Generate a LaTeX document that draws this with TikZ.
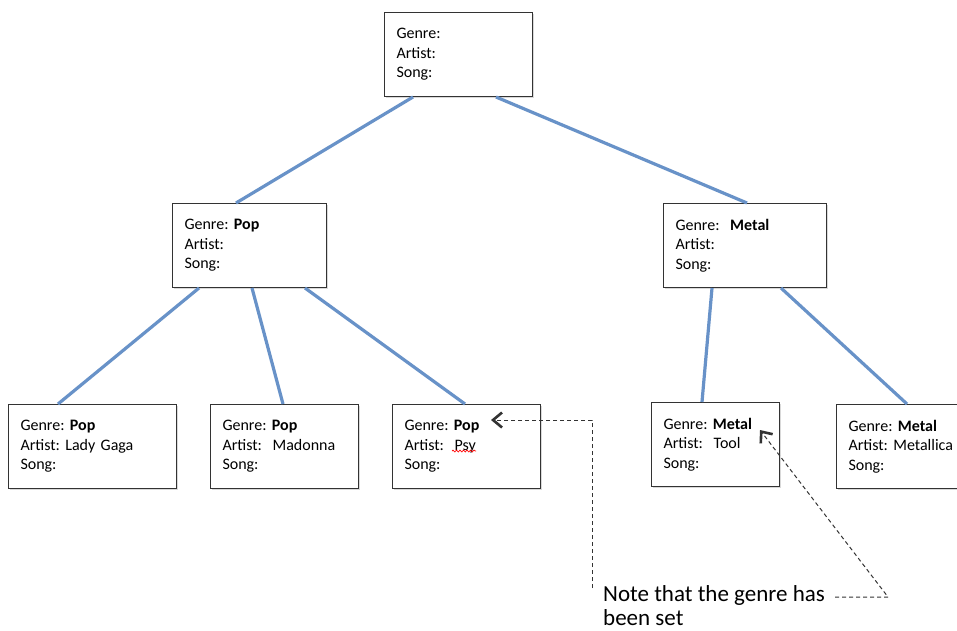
\documentclass[tikz,border=0pt]{standalone}
\usepackage{fontspec}
\setmainfont{Carlito}
\usetikzlibrary{arrows.meta,shadows,decorations.pathmorphing}
\definecolor{linkblue}{RGB}{104,146,200}
\frenchspacing

\begin{document}
\begin{tikzpicture}[x=1pt, y=-1pt,
  box/.style={draw=black!80, line width=1pt, fill=white, anchor=north west, minimum height=84pt,
    inner xsep=12pt, inner ysep=0pt, align=left, font=\fontsize{16}{19.5}\selectfont,
    drop shadow={shadow xshift=1.5pt, shadow yshift=-1.5pt, opacity=0.3}},
  link/.style={line width=3.2pt, draw=linkblue},
  hint/.style={draw=black!80, line width=1pt, dash pattern=on 4pt off 3pt},
  tip/.style={-{Straight Barb[length=9pt, width=15pt, line width=2.6pt]}}]
\useasboundingbox (0,0) rectangle (957,630);

\node[box, text width=124pt] (root) at (384,12) {Genre:\\Artist:\\Song:};
\node[box, text width=130pt] (pop) at (172,203) {Genre: \textbf{Pop}\\Artist:\\Song:};
\node[box, text width=139pt] (metal) at (663,203) {Genre:~ \textbf{Metal}\\Artist:\\Song:};
\node[box, text width=144pt] (gaga) at (8,404) {Genre: \textbf{Pop}\\Artist: Lady Gaga\\Song:};
\node[box, text width=124pt] (madonna) at (210,404) {Genre: \textbf{Pop}\\Artist:~ Madonna\\Song:};
\node[box, text width=124pt] (psy) at (392,404) {Genre: \textbf{Pop}\\Artist:~ Psy\\Song:};
\node[box, text width=104pt] (tool) at (651,402) {Genre: \textbf{Metal}\\Artist:~ Tool\\Song:};
\node[box, text width=116pt] (metallica) at (836,404) {Genre: \textbf{Metal}\\Artist: Metallica\\Song:};

\draw[link] ([xshift=29]root.south west) -- ([xshift=64]pop.north west);
\draw[link] ([xshift=112]root.south west) -- ([xshift=84]metal.north west);
\draw[link] ([xshift=27]pop.south west) -- ([xshift=50]gaga.north west);
\draw[link] ([xshift=80]pop.south west) -- ([xshift=73]madonna.north west);
\draw[link] ([xshift=133]pop.south west) -- ([xshift=73]psy.north west);
\draw[link] ([xshift=49]metal.south west) -- ([xshift=51]tool.north west);
\draw[link] ([xshift=118]metal.south west) -- ([xshift=71]metallica.north west);

\draw[red, line width=0.7pt, decorate, decoration={snake, amplitude=0.9pt, segment length=3.5pt}] (452,451) -- (476,451);

\node[anchor=north west, inner sep=0pt, align=left, font=\fontsize{23}{24}\selectfont] (note) at (603,585) {Note that the genre has\\been set};

\draw[hint, tip] ([shift={(-11,3)}]note.north west) |- ([shift={(-50,16)}]psy.north east);
\draw[hint, tip] ([shift={(10,12)}]note.north east) -- ++(53,0) -- ([shift={(-20,28)}]tool.north east);
\end{tikzpicture}
\end{document}
